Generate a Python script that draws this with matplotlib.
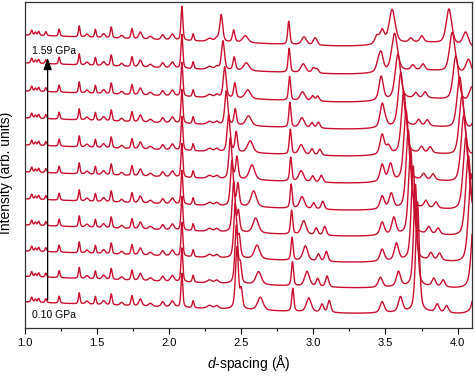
import numpy as np
import matplotlib
matplotlib.use("Agg")
import matplotlib.pyplot as plt
from matplotlib.ticker import MultipleLocator, FormatStrFormatter

plt.rcParams['font.family'] = ['Liberation Sans', 'DejaVu Sans']
plt.rcParams['mathtext.fontset'] = 'custom'
plt.rcParams['mathtext.it'] = 'Liberation Sans:italic'
plt.rcParams['mathtext.rm'] = 'Liberation Sans'

# patterns, bottom (0.10 GPa) to top (1.59 GPa)
pressure_labels = ["0.10 GPa", "1.59 GPa"]
offsets = [0, 25.5, 51, 77, 103, 130, 157, 184, 211, 239, 267]
hump_h = [4, 4, 5, 5, 5, 6, 6, 6, 7, 7, 7]

# peaks that hardly move: position (A), height, fwhm (A)
static_pos = [1.046, 1.072, 1.095, 1.145, 1.237, 1.376, 1.43, 1.488, 1.545, 1.598,
              1.67, 1.742, 1.80, 1.87, 1.955, 2.022, 2.088, 2.166, 2.28, 2.33]
static_h = [5, 3, 4, 4, 7, 11, 3, 8, 4, 11, 3, 10, 7, 3, 5, 6, 34, 7, 3, 3]
static_w = [0.014, 0.014, 0.014, 0.014, 0.013, 0.013, 0.025, 0.013, 0.025, 0.015,
            0.025, 0.016, 0.025, 0.03, 0.025, 0.03, 0.015, 0.014, 0.04, 0.03]

# peaks that shift with pressure, one value per pattern
A_pos = [2.470, 2.466, 2.458, 2.447, 2.435, 2.424, 2.412, 2.396, 2.385, 2.373, 2.361]
A_h = [62, 58, 54, 50, 45, 41, 37, 34, 31, 29, 27]
A2_pos = [2.500, 2.493, 2.486, 2.480, 2.477, 2.470, 2.465, 2.458, 2.455, 2.451, 2.447]
A2_h = [18, 18, 20, 20, 22, 22, 20, 16, 15, 13, 12]
A3_pos = [2.632, 2.620, 2.609, 2.600, 2.586, 2.574, 2.562, 2.550, 2.545, 2.535, 2.528]
A3_h = [13, 13, 14, 15, 16, 15, 12, 10, 9, 8, 7]
F_pos = [2.857, 2.855, 2.852, 2.849, 2.846, 2.843, 2.840, 2.837, 2.835, 2.832, 2.829]
F_h = [23, 24, 23, 24, 24, 24, 25, 25, 24, 24, 23]
E1_pos = [2.968, 2.956, 2.944, 2.933, 2.921, 2.915, 2.915, 2.920, 2.925, 2.930, 2.935]
E1_h = [14, 15, 15, 14, 12, 11, 10, 10, 9, 9, 8]
E2_pos = [3.060, 3.030, 3.035, 3.020, 3.002, 2.995, 2.990, 2.990, 2.995, 3.000, 3.007]
E2_h = [8, 8, 7, 7, 6, 6, 6, 5, 5, 5, 5]
E3_pos = [3.110, 3.095, 3.090, 3.079, 3.065, 3.055, 3.045, 3.035, 3.030, 3.025, 3.020]
E3_h = [12, 11, 10, 9, 8, 7, 6, 6, 5, 4, 4]
P1_pos = [3.477, 3.465, 3.477, 3.477, 3.477, 3.477, 3.477, 3.477, 3.470, 3.470, 3.477]
P1_h = [11, 10, 12, 13, 13, 17, 20, 23, 18, 17, 13]
P2_pos = [3.604, 3.590, 3.576, 3.558, 3.540, 3.535, 3.520, 3.500, 3.470, 3.450, 3.440]
P2_h = [15, 15, 17, 17, 15, 17, 8, 4, 6, 8, 8]
B_pos = [3.722, 3.708, 3.692, 3.674, 3.658, 3.643, 3.627, 3.606, 3.586, 3.563, 3.546]
B_h = [110, 102, 94, 86, 78, 70, 62, 54, 45, 38, 34]
B_w = [0.030, 0.030, 0.032, 0.034, 0.036, 0.038, 0.040, 0.042, 0.045, 0.048, 0.050]
D1_pos = [3.859, 3.835, 3.815, 3.800, 3.780, 3.765, 3.750, 3.730, 3.710, 3.690, 3.675]
D1_h = [8, 8, 7, 7, 7, 6, 6, 6, 5, 5, 4]
D2_pos = [3.924, 3.900, 3.875, 3.865, 3.850, 3.830, 3.810, 3.790, 3.775, 3.760, 3.752]
D2_h = [7, 7, 7, 6, 6, 6, 6, 6, 6, 6, 6]
C_pos = [4.145, 4.120, 4.095, 4.075, 4.058, 4.043, 4.030, 4.015, 3.988, 3.963, 3.940]
C_h = [105, 98, 90, 82, 75, 68, 60, 52, 45, 40, 35]
C2_pos = [4.270, 4.240, 4.215, 4.195, 4.178, 4.160, 4.148, 4.130, 4.100, 4.076, 4.056]
C2_h = [40, 36, 32, 28, 25, 22, 20, 18, 16, 15, 14]

moving = [(A_pos, A_h, 0.024), (A2_pos, A2_h, 0.02), (A3_pos, A3_h, 0.045),
          (F_pos, F_h, 0.017), (E1_pos, E1_h, 0.04), (E2_pos, E2_h, 0.025),
          (E3_pos, E3_h, 0.025), (P1_pos, P1_h, 0.035), (P2_pos, P2_h, 0.035),
          (B_pos, B_h, B_w), (D1_pos, D1_h, 0.03), (D2_pos, D2_h, 0.03),
          (C_pos, C_h, 0.045), (C2_pos, C2_h, 0.045)]


def peak(x, x0, h, w, eta=0.5):
    lor = 1 / (1 + ((x - x0) / (w / 2)) ** 2)
    gau = np.exp(-4 * np.log(2) * ((x - x0) / w) ** 2)
    return h * (eta * lor + (1 - eta) * gau)


d = np.linspace(1.0, 4.1, 3101)

fig = plt.figure(figsize=(4.75, 3.76), dpi=100)
ax = fig.add_axes([25 / 475, 48 / 376, 447 / 475, 326 / 376])

for i in range(len(offsets)):
    y = offsets[i] - 5.2 * (d - 1.0) + peak(d, 3.8, hump_h[i], 0.6, eta=0)
    for p, h, w in zip(static_pos, static_h, static_w):
        y = y + peak(d, p, h, w)
    for pos, hs, w in moving:
        ww = w[i] if isinstance(w, list) else w
        y = y + peak(d, pos[i], hs[i], ww)
    ax.plot(d, y, color='#c8102e', lw=1.0)

ax.set_xlim(1.0, 4.1)
ax.set_ylim(-26, 300)
ax.set_yticks([])
ax.xaxis.set_major_locator(MultipleLocator(0.5))
ax.xaxis.set_minor_locator(MultipleLocator(0.25))
ax.xaxis.set_major_formatter(FormatStrFormatter('%.1f'))
ax.tick_params(axis='x', which='major', direction='out', length=4, width=0.8, labelsize=8, pad=3)
ax.tick_params(axis='x', which='minor', direction='out', length=2.5, width=0.8)
for s in ax.spines.values():
    s.set_linewidth(0.9)
    s.set_color('#333333')

ax.annotate('', xy=(1.157, 244), xytext=(1.157, 2),
            arrowprops=dict(arrowstyle='-|>,head_length=0.7,head_width=0.25',
                            color='black', lw=0.9, mutation_scale=10,
                            shrinkA=0, shrinkB=0))
ax.text(1.049, 251, pressure_labels[1], fontsize=7.5, va='center')
ax.text(1.049, -13, pressure_labels[0], fontsize=7.5, va='center')

ax.set_xlabel(r'$d$-spacing (Å)', fontsize=10, labelpad=4)
ax.set_ylabel('Intensity (arb. units)', fontsize=10)
ax.yaxis.set_label_coords(-0.026, 0.475)

fig.savefig('out.png', dpi=100)
